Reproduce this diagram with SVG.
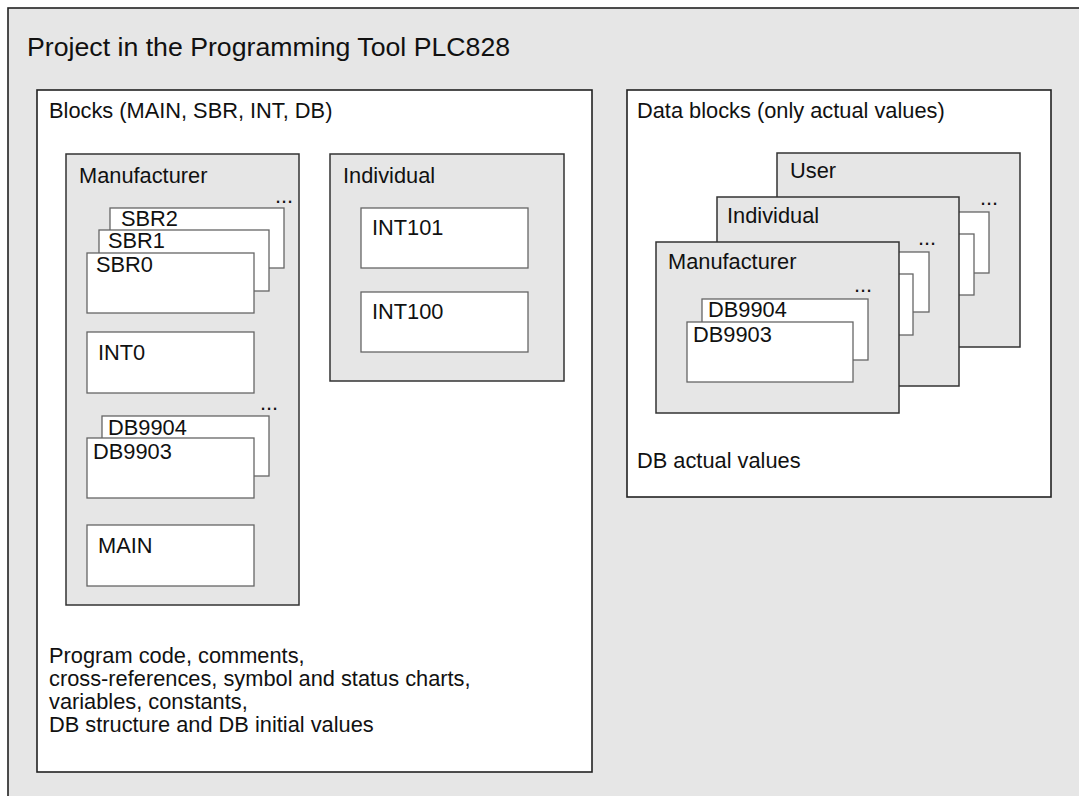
<svg xmlns="http://www.w3.org/2000/svg" width="1079" height="796" viewBox="0 0 1079 796">
  <style>
    text { font-family: "Liberation Sans", Arial, sans-serif; font-size: 21.8px; fill: #111; }
    .title { font-size: 26.7px; }
    .outer { fill: #e6e6e6; stroke: #222; stroke-width: 1.6; }
    .panel { fill: #ffffff; stroke: #222; stroke-width: 1.6; }
    .grp { fill: #e6e6e6; stroke: #333; stroke-width: 1.5; }
    .blk { fill: #ffffff; stroke: #666; stroke-width: 1.3; }
  </style>
  <rect width="1079" height="796" fill="#ffffff"/>

  <g id="project">
    <rect class="outer" x="8" y="8" width="1090" height="810"/>
    <text class="title" x="27" y="56">Project in the Programming Tool PLC828</text>
  </g>

  <g id="blocks">
    <rect class="panel" x="37" y="90" width="555" height="682"/>
    <text x="49" y="118">Blocks (MAIN, SBR, INT, DB)</text>
    <text x="49" y="663">Program code, comments,</text>
    <text x="49" y="686">cross-references, symbol and status charts,</text>
    <text x="49" y="709">variables, constants,</text>
    <text x="49" y="732">DB structure and DB initial values</text>
  </g>

  <g id="manufacturer-blocks">
    <rect class="grp" x="66" y="154" width="233" height="451"/>
    <text x="79" y="183">Manufacturer</text>
    <text x="275" y="203">...</text>
    <g id="sbr2"><rect class="blk" x="110" y="208" width="174" height="60"/><text x="121" y="226">SBR2</text></g>
    <g id="sbr1"><rect class="blk" x="99" y="230" width="170" height="61"/><text x="108" y="248">SBR1</text></g>
    <g id="sbr0"><rect class="blk" x="87" y="253" width="167" height="60"/><text x="96" y="272">SBR0</text></g>
    <g id="int0"><rect class="blk" x="87" y="332" width="167" height="61"/><text x="98" y="360">INT0</text></g>
    <text x="260" y="410">...</text>
    <g id="db9904-l"><rect class="blk" x="102" y="416" width="167" height="60"/><text x="108" y="435">DB9904</text></g>
    <g id="db9903-l"><rect class="blk" x="87" y="438" width="167" height="60"/><text x="93" y="459">DB9903</text></g>
    <g id="main"><rect class="blk" x="87" y="525" width="167" height="61"/><text x="98" y="553">MAIN</text></g>
  </g>

  <g id="individual-blocks">
    <rect class="grp" x="330" y="154" width="234" height="227"/>
    <text x="343" y="183">Individual</text>
    <g id="int101"><rect class="blk" x="361" y="208" width="167" height="60"/><text x="372" y="235">INT101</text></g>
    <g id="int100"><rect class="blk" x="361" y="292" width="167" height="60"/><text x="372" y="319">INT100</text></g>
  </g>

  <g id="data-blocks">
    <rect class="panel" x="627" y="90" width="424" height="407"/>
    <text x="637" y="118">Data blocks (only actual values)</text>
    <text x="637" y="468">DB actual values</text>
  </g>

  <g id="user-db">
    <rect class="grp" x="777" y="153" width="243" height="194"/>
    <text x="790" y="178">User</text>
    <text x="980" y="205">...</text>
    <rect class="blk" x="900" y="212" width="89" height="61" stroke="#222"/>
    <rect class="blk" x="890" y="234" width="84" height="61" stroke="#222"/>
  </g>

  <g id="individual-db">
    <rect class="grp" x="717" y="197" width="242" height="189"/>
    <text x="727" y="223">Individual</text>
    <text x="918" y="245">...</text>
    <rect class="blk" x="840" y="252" width="89" height="60" stroke="#222"/>
    <rect class="blk" x="830" y="274" width="83" height="61" stroke="#222"/>
  </g>

  <g id="manufacturer-db">
    <rect class="grp" x="656" y="242" width="243" height="171"/>
    <text x="668" y="269">Manufacturer</text>
    <text x="854" y="292">...</text>
    <g id="db9904-r"><rect class="blk" x="702" y="299" width="166" height="61" stroke="#222"/><text x="708" y="317">DB9904</text></g>
    <g id="db9903-r"><rect class="blk" x="687" y="322" width="166" height="60"/><text x="693" y="342">DB9903</text></g>
  </g>

  <g id="connectors"/>
</svg>
